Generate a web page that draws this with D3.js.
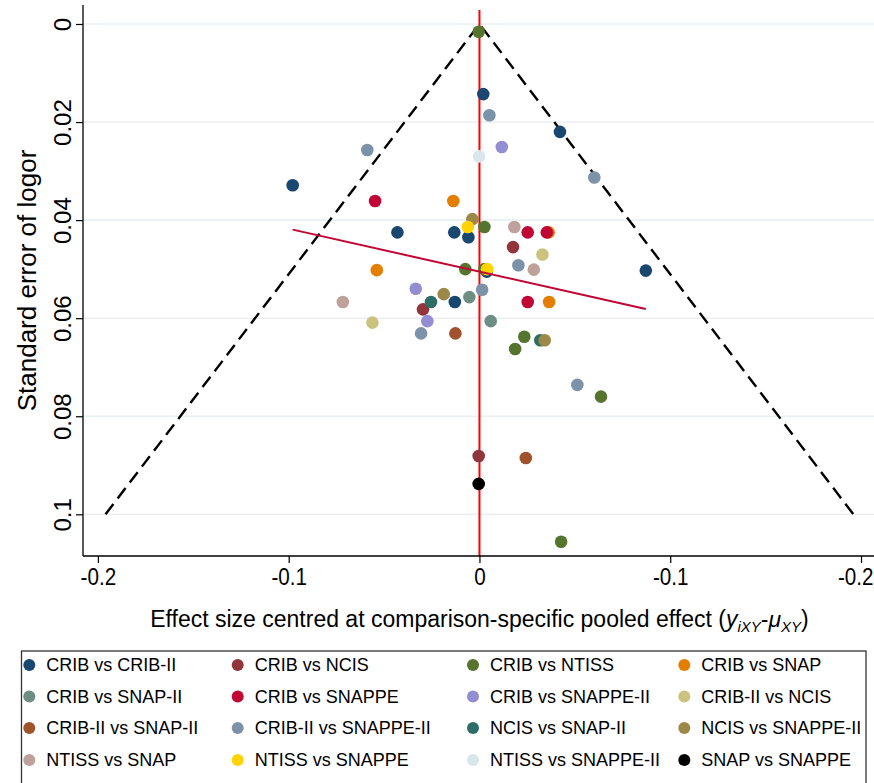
<!DOCTYPE html>
<html>
  <head>
    <meta charset="utf-8">
    <script src="https://d3js.org/d3.v7.min.js"></script>
    <script>window.d3 || document.write('<script src="https://cdn.jsdelivr.net/npm/d3@7/dist/d3.min.js"><\/script>');</script>
    <style>
      body { margin: 0; background: #fff; }
      text { font-family: "Liberation Sans", Arial, sans-serif; fill: #000; }
      .tick-label { font-size: 24px; }
      .x-title { font-size: 23px; }
      .y-title { font-size: 26px; }
      .legend text { font-size: 18px; }
    </style>
  </head>
  <body>
    <svg width="874" height="783"></svg>
    <script>
      var comparisons = [
        'CRIB vs CRIB-II', 'CRIB vs NCIS', 'CRIB vs NTISS', 'CRIB vs SNAP',
        'CRIB vs SNAP-II', 'CRIB vs SNAPPE', 'CRIB vs SNAPPE-II', 'CRIB-II vs NCIS',
        'CRIB-II vs SNAP-II', 'CRIB-II vs SNAPPE-II', 'NCIS vs SNAP-II', 'NCIS vs SNAPPE-II',
        'NTISS vs SNAP', 'NTISS vs SNAPPE', 'NTISS vs SNAPPE-II', 'SNAP vs SNAPPE'
      ];
      var colors = [
        '#1a476f', '#90353b', '#55752f', '#e37e00',
        '#6e8e84', '#c10534', '#938dd2', '#cac27e',
        '#a0522d', '#7b92a8', '#2d6d66', '#9c8847',
        '#bfa19c', '#ffd200', '#d9e6eb', '#000000'
      ];

      // [comparison index, centred effect size, standard error]
      var studies = [
        [0, 0.0020, 0.0143], [0, 0.0422, 0.0220], [0, -0.0979, 0.0329], [0, -0.0430, 0.0425],
        [0, -0.0132, 0.0425], [0, -0.0058, 0.0435], [0, 0.0038, 0.0505], [0, 0.0872, 0.0503],
        [0, -0.0129, 0.0567],
        [1, 0.0176, 0.0455], [1, -0.0296, 0.0582], [1, -0.0004, 0.0881],
        [2, -0.0004, 0.0016], [2, 0.0026, 0.0414], [2, -0.0074, 0.0500], [2, 0.0026, 0.0500],
        [2, 0.0235, 0.0638], [2, 0.0187, 0.0663], [2, 0.0637, 0.0760], [2, 0.0428, 0.1056],
        [3, -0.0137, 0.0361], [3, 0.0363, 0.0425], [3, -0.0538, 0.0502], [3, 0.0365, 0.0567],
        [4, -0.0053, 0.0557], [4, 0.0059, 0.0606],
        [5, -0.0547, 0.0361], [5, 0.0253, 0.0425], [5, 0.0353, 0.0425], [5, 0.0253, 0.0567],
        [6, 0.0117, 0.0251], [6, -0.0334, 0.0540], [6, -0.0273, 0.0606],
        [7, 0.0330, 0.0470], [7, -0.0561, 0.0609],
        [8, -0.0126, 0.0631], [8, 0.0243, 0.0885],
        [9, 0.0052, 0.0186], [9, -0.0588, 0.0257], [9, 0.0602, 0.0313], [9, 0.0204, 0.0492],
        [9, 0.0014, 0.0542], [9, -0.0306, 0.0631], [9, 0.0513, 0.0736],
        [10, -0.0254, 0.0567], [10, 0.0319, 0.0645],
        [11, -0.0037, 0.0398], [11, -0.0187, 0.0551], [11, 0.0342, 0.0645],
        [12, 0.0183, 0.0414], [12, 0.0285, 0.0501], [12, -0.0716, 0.0567],
        [13, -0.0061, 0.0414], [13, 0.0040, 0.0500],
        [14, -0.0002, 0.0270],
        [15, -0.0004, 0.0938]
      ];

      var xTicks = [-0.2, -0.1, 0, 0.1, 0.2];
      var xTickLabels = ['-0.2', '-0.1', '0', '-0.1', '-0.2'];
      var yTicks = [0, 0.02, 0.04, 0.06, 0.08, 0.1];
      var yTickLabels = ['0', '0.02', '0.04', '0.06', '0.08', '0.1'];

      var funnelZ = 1.96, funnelSeMax = 0.1;
      var fitLine = { intercept: 0.0505, slope: 0.0874 };

      var width = 874;
      var svg = d3.select('svg');
      var plot = { left: 83, right: 874, top: 5, bottom: 556 };

      var x = d3.scaleLinear().domain([-0.2078, 0.2068]).range([plot.left, plot.right]);
      var y = d3.scaleLinear().domain([-0.00387, 0.1085]).range([plot.top, plot.bottom]);

      // grid
      svg.append('g').selectAll('line').data(yTicks).enter().append('line')
          .attr('x1', plot.left + 1).attr('x2', plot.right)
          .attr('y1', d => y(d)).attr('y2', d => y(d))
          .attr('stroke', '#e8f0f2').attr('stroke-width', 1.6);

      // funnel (pseudo 95% limits)
      var funnel = [[-funnelZ * funnelSeMax, funnelSeMax], [0, 0], [funnelZ * funnelSeMax, funnelSeMax]];
      svg.append('path')
          .datum(funnel)
          .attr('d', d3.line().x(d => x(d[0])).y(d => y(d[1])))
          .attr('fill', 'none').attr('stroke', '#000')
          .attr('stroke-width', 2.4).attr('stroke-dasharray', '13,7');

      // null line
      svg.append('line')
          .attr('x1', x(0)).attr('x2', x(0))
          .attr('y1', plot.top + 5).attr('y2', plot.bottom)
          .attr('stroke', '#ff0000').attr('stroke-width', 2);

      // points, drawn group by group
      svg.append('g').selectAll('circle')
          .data(studies.slice().sort((a, b) => a[0] - b[0]))
        .enter().append('circle')
          .attr('cx', d => x(d[1]))
          .attr('cy', d => y(d[2]))
          .attr('r', 6.3)
          .attr('fill', d => colors[d[0]]);

      // small-study regression line
      var xExt = d3.extent(studies, d => d[1]);
      svg.append('path')
          .datum(xExt.map(v => [v, fitLine.intercept + fitLine.slope * v]))
          .attr('d', d3.line().x(d => x(d[0])).y(d => y(d[1])))
          .attr('fill', 'none').attr('stroke', '#c10534').attr('stroke-width', 2);

      // axes
      var xAxis = d3.axisBottom(x).tickValues(xTicks).tickSize(7)
          .tickFormat((d, i) => xTickLabels[i]);
      var xAxisG = svg.append('g')
          .attr('transform', `translate(0,${plot.bottom})`)
          .call(xAxis);
      xAxisG.attr('font-size', null).attr('font-family', null);
      xAxisG.select('.domain').attr('d', `M${plot.left},0H${plot.right}`).attr('stroke-width', 1.3);
      xAxisG.selectAll('.tick line').attr('stroke-width', 1.2);
      xAxisG.selectAll('.tick text').attr('class', 'tick-label')
          .attr('y', 12).attr('dy', '0.71em')
          .attr('transform', 'scale(0.86,1)');
      // keep the outermost label inside the page
      xAxisG.selectAll('.tick').each(function (d) {
        var t = d3.select(this).select('text');
        var half = t.node().getComputedTextLength() * 0.86 / 2;
        var over = x(d) + half - (width - 1);
        if (over > 0) t.attr('x', -over / 0.86);
      });

      var yAxis = d3.axisLeft(y).tickValues(yTicks).tickSize(7).tickFormat('');
      var yAxisG = svg.append('g')
          .attr('transform', `translate(${plot.left},0)`)
          .call(yAxis);
      yAxisG.attr('font-size', null).attr('font-family', null);
      yAxisG.select('.domain').attr('d', `M0,${plot.top}V${plot.bottom}`).attr('stroke-width', 1.3);
      yAxisG.selectAll('.tick line').attr('stroke-width', 1.2);
      yAxisG.selectAll('.tick').append('text')
          .attr('class', 'tick-label')
          .attr('transform', 'translate(-12,0) rotate(-90)')
          .attr('text-anchor', 'middle')
          .attr('fill', '#000')
          .text((d, i) => yTickLabels[i]);

      // axis titles
      svg.append('text')
          .attr('class', 'y-title')
          .attr('transform', `translate(36,${(plot.top + plot.bottom) / 2}) rotate(-90)`)
          .attr('text-anchor', 'middle')
          .text('Standard error of logor');

      var xt = svg.append('text')
          .attr('class', 'x-title')
          .attr('x', x(0)).attr('y', 627)
          .attr('text-anchor', 'middle');
      xt.append('tspan').text('Effect size centred at comparison-specific pooled effect (');
      xt.append('tspan').attr('font-style', 'italic').text('y');
      xt.append('tspan').attr('font-style', 'italic').attr('font-size', '15px').attr('dy', 5).text('iXY');
      xt.append('tspan').attr('dy', -5).text('-');
      xt.append('tspan').attr('font-style', 'italic').text('μ');
      xt.append('tspan').attr('font-style', 'italic').attr('font-size', '15px').attr('dy', 5).text('XY');
      xt.append('tspan').attr('dy', -5).text(')');

      // legend
      var legendCols = [29.3, 237.7, 473, 684.3];
      var legendRows = [665, 696.5, 728, 760];
      var legend = svg.append('g').attr('class', 'legend');
      legend.append('rect')
          .attr('x', 21.5).attr('y', 651).attr('width', 866 - 21.5).attr('height', 160)
          .attr('fill', '#fff').attr('stroke', '#333').attr('stroke-width', 1.3);
      var keys = legend.selectAll('g.key').data(comparisons).enter().append('g')
          .attr('class', 'key')
          .attr('transform', (d, i) => `translate(${legendCols[i % 4]},${legendRows[Math.floor(i / 4)]})`);
      keys.append('circle').attr('r', 6).attr('fill', (d, i) => colors[i]);
      keys.append('text').attr('x', 17).attr('dy', '0.36em').text(d => d);
    </script>
  </body>
</html>
